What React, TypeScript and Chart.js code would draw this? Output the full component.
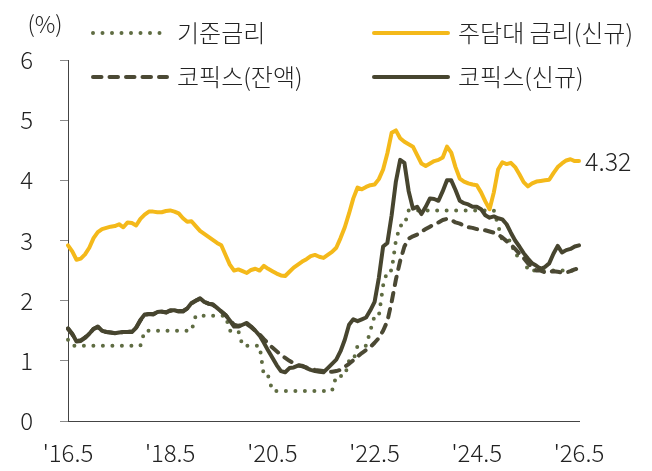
import React, { useEffect, useRef } from 'react';
import { Chart, registerables } from 'chart.js';

Chart.register(...registerables);

const FONT = "'Noto Sans CJK KR', 'Noto Sans', sans-serif";

// Monthly categories from 2016.5 to 2026.5
const START_YEAR = 2016;
const START_MONTH = 5;
const MONTH_COUNT = 121;
const categories: string[] = Array.from({ length: MONTH_COUNT }, (_, i) => {
  const t = START_MONTH - 1 + i;
  return `${START_YEAR + Math.floor(t / 12)}.${(t % 12) + 1}`;
});

const tickLabels = ["'16.5", "'18.5", "'20.5", "'22.5", "'24.5", "'26.5"];
const TICK_EVERY = 24;

const seriesNames = ['기준금리', '주담대 금리(신규)', '코픽스(잔액)', '코픽스(신규)'];

// 기준금리
const baseRate = [
  1.35, 1.25, 1.25, 1.25, 1.25, 1.25, 1.25, 1.25, 1.25, 1.25,
  1.25, 1.25, 1.25, 1.25, 1.25, 1.25, 1.25, 1.25, 1.5, 1.5,
  1.5, 1.5, 1.5, 1.5, 1.5, 1.5, 1.5, 1.5, 1.5, 1.5,
  1.75, 1.75, 1.75, 1.75, 1.75, 1.75, 1.75, 1.75, 1.5, 1.5,
  1.5, 1.25, 1.25, 1.25, 1.25, 1.25, 0.75, 0.75, 0.5, 0.5,
  0.5, 0.5, 0.5, 0.5, 0.5, 0.5, 0.5, 0.5, 0.5, 0.5,
  0.5, 0.5, 0.5, 0.75, 0.75, 0.75, 1.0, 1.0, 1.25, 1.25,
  1.25, 1.5, 1.75, 1.75, 2.25, 2.5, 2.5, 3.0, 3.25, 3.25,
  3.5, 3.5, 3.5, 3.5, 3.5, 3.5, 3.5, 3.5, 3.5, 3.5,
  3.5, 3.5, 3.5, 3.5, 3.5, 3.5, 3.5, 3.5, 3.5, 3.5,
  3.5, 3.25, 3.0, 3.0, 3.0, 2.75, 2.75, 2.75, 2.5, 2.5,
  2.5, 2.5, 2.5, 2.5, 2.5, 2.5, 2.5, 2.5, 2.5, 2.5,
  2.5,
];

// 주담대 금리(신규)
const mortgageNew = [
  2.92, 2.82, 2.68, 2.70, 2.77, 2.88, 3.04, 3.14, 3.19, 3.21,
  3.23, 3.24, 3.27, 3.22, 3.30, 3.29, 3.25, 3.36, 3.43, 3.48,
  3.48, 3.47, 3.47, 3.49, 3.50, 3.48, 3.45, 3.37, 3.31, 3.32,
  3.24, 3.16, 3.11, 3.06, 3.01, 2.96, 2.92, 2.76, 2.60, 2.50,
  2.52, 2.49, 2.46, 2.51, 2.53, 2.50, 2.58, 2.53, 2.49, 2.45,
  2.42, 2.41, 2.48, 2.55, 2.60, 2.65, 2.69, 2.74, 2.76, 2.73,
  2.71, 2.76, 2.81, 2.88, 3.04, 3.22, 3.45, 3.70, 3.88, 3.85,
  3.89, 3.92, 3.93, 4.02, 4.18, 4.45, 4.79, 4.83, 4.70, 4.64,
  4.60, 4.56, 4.42, 4.28, 4.24, 4.28, 4.32, 4.34, 4.38, 4.56,
  4.46, 4.22, 4.03, 3.98, 3.95, 3.93, 3.92, 3.80, 3.65, 3.52,
  3.80, 4.18, 4.30, 4.27, 4.29, 4.22, 4.10, 3.97, 3.90, 3.95,
  3.98, 3.99, 4.00, 4.01, 4.12, 4.22, 4.28, 4.33, 4.35, 4.32,
  4.32,
];

// 코픽스(잔액)
const cofixBalance = [
  1.53, 1.44, 1.34, 1.34, 1.39, 1.45, 1.53, 1.56, 1.50, 1.48,
  1.47, 1.46, 1.47, 1.48, 1.48, 1.49, 1.55, 1.67, 1.76, 1.78,
  1.78, 1.80, 1.81, 1.81, 1.83, 1.84, 1.83, 1.83, 1.87, 1.95,
  2.00, 2.03, 1.98, 1.95, 1.93, 1.88, 1.82, 1.76, 1.68, 1.60,
  1.58, 1.60, 1.61, 1.56, 1.50, 1.44, 1.36, 1.29, 1.22, 1.16,
  1.10, 1.05, 1.00, 0.96, 0.93, 0.91, 0.89, 0.87, 0.85, 0.84,
  0.83, 0.82, 0.82, 0.83, 0.85, 0.90, 0.95, 1.01, 1.07, 1.13,
  1.18, 1.23, 1.30, 1.38, 1.50, 1.66, 1.98, 2.35, 2.66, 2.90,
  3.03, 3.07, 3.10, 3.15, 3.19, 3.23, 3.27, 3.30, 3.34, 3.36,
  3.34, 3.30, 3.28, 3.25, 3.22, 3.21, 3.19, 3.18, 3.17, 3.15,
  3.13, 3.10, 3.05, 2.99, 2.93, 2.86, 2.78, 2.71, 2.62, 2.55,
  2.50, 2.50, 2.47, 2.48, 2.49, 2.48, 2.47, 2.47, 2.49, 2.52,
  2.54,
];

// 코픽스(신규)
const cofixNew = [
  1.54, 1.45, 1.32, 1.33, 1.38, 1.45, 1.53, 1.57, 1.50, 1.48,
  1.47, 1.46, 1.47, 1.48, 1.48, 1.48, 1.55, 1.68, 1.77, 1.78,
  1.77, 1.81, 1.82, 1.80, 1.84, 1.84, 1.82, 1.82, 1.87, 1.96,
  2.00, 2.04, 1.98, 1.95, 1.94, 1.88, 1.82, 1.76, 1.67, 1.57,
  1.57, 1.60, 1.63, 1.57, 1.50, 1.42, 1.30, 1.17, 1.05, 0.93,
  0.83, 0.81, 0.88, 0.89, 0.92, 0.92, 0.88, 0.85, 0.83, 0.82,
  0.81, 0.88, 0.95, 1.02, 1.16, 1.35, 1.60, 1.69, 1.66, 1.69,
  1.72, 1.84, 1.98, 2.38, 2.90, 2.96, 3.42, 3.98, 4.34, 4.29,
  3.82, 3.53, 3.56, 3.44, 3.56, 3.70, 3.69, 3.66, 3.82, 4.00,
  4.00, 3.84, 3.66, 3.62, 3.60, 3.56, 3.56, 3.52, 3.42, 3.38,
  3.40, 3.37, 3.35, 3.27, 3.13, 3.00, 2.90, 2.79, 2.70, 2.62,
  2.58, 2.53, 2.56, 2.62, 2.78, 2.91, 2.80, 2.84, 2.86, 2.90,
  2.92,
];

const COLORS = {
  base: '#5f6c42',
  mortgage: '#f4b91a',
  cofixBal: '#4b4934',
  cofixNew: '#47452f',
  text: '#222222',
  axis: '#444444',
  tick: '#8a8a8a',
};

const legendPlugin = {
  id: 'customLegend',
  afterDraw(chart: any) {
    const ctx: CanvasRenderingContext2D = chart.ctx;
    const slots = [
      { i: 0, x: 93, y: 33 },
      { i: 1, x: 374, y: 33 },
      { i: 2, x: 93, y: 77 },
      { i: 3, x: 374, y: 77 },
    ];
    ctx.save();
    slots.forEach(({ i, x, y }) => {
      const ds = chart.data.datasets[i];
      ctx.save();
      ctx.strokeStyle = ds.borderColor;
      ctx.lineWidth = ds.borderWidth;
      ctx.lineCap = 'round';
      ctx.setLineDash(ds.borderDash || []);
      ctx.beginPath();
      ctx.moveTo(x, y);
      ctx.lineTo(x + 74, y);
      ctx.stroke();
      ctx.restore();
      ctx.fillStyle = COLORS.text;
      ctx.font = `300 24px ${FONT}`;
      ctx.textAlign = 'left';
      ctx.textBaseline = 'middle';
      ctx.fillText(ds.label, x + 84, y);
    });
    // unit label
    ctx.font = `300 23px ${FONT}`;
    ctx.textAlign = 'center';
    ctx.textBaseline = 'middle';
    ctx.fillStyle = COLORS.text;
    ctx.fillText('(%)', 45, 24);
    // last value label on 주담대 금리
    const meta = chart.getDatasetMeta(1);
    const last = meta.data[meta.data.length - 1];
    const vals = chart.data.datasets[1].data;
    const lastVal = vals[vals.length - 1];
    if (last) {
      ctx.font = `300 25px ${FONT}`;
      ctx.textAlign = 'left';
      ctx.fillText(lastVal.toFixed(2), last.x + 6, last.y);
    }
    ctx.restore();
  },
};

export default function App() {
  const canvasRef = useRef<HTMLCanvasElement | null>(null);

  useEffect(() => {
    document.body.style.margin = '0';
    const canvas = canvasRef.current;
    if (!canvas) return;
    const chart = new Chart(canvas, {
      type: 'line',
      data: {
        labels: categories,
        datasets: [
          {
            label: seriesNames[0],
            data: baseRate,
            borderColor: COLORS.base,
            borderWidth: 4,
            borderDash: [0, 9.5],
            borderCapStyle: 'round',
            borderJoinStyle: 'round',
            pointRadius: 0,
            tension: 0,
            order: 4,
          },
          {
            label: seriesNames[1],
            data: mortgageNew,
            borderColor: COLORS.mortgage,
            borderWidth: 4,
            borderJoinStyle: 'round',
            borderCapStyle: 'round',
            pointRadius: 0,
            tension: 0,
            order: 2,
          },
          {
            label: seriesNames[2],
            data: cofixBalance,
            borderColor: COLORS.cofixBal,
            borderWidth: 4,
            borderDash: [8.5, 8],
            borderCapStyle: 'round',
            borderJoinStyle: 'round',
            pointRadius: 0,
            tension: 0,
            order: 3,
          },
          {
            label: seriesNames[3],
            data: cofixNew,
            borderColor: COLORS.cofixNew,
            borderWidth: 4,
            borderJoinStyle: 'round',
            borderCapStyle: 'round',
            pointRadius: 0,
            tension: 0,
            order: 1,
          },
        ] as any,
      },
      options: {
        animation: false,
        responsive: false,
        devicePixelRatio: 1,
        layout: { padding: { top: 60, right: 73, left: 0, bottom: 0 } },
        plugins: {
          legend: { display: false },
          tooltip: { enabled: false },
        },
        scales: {
          x: {
            type: 'category',
            offset: false,
            grid: { display: false, drawTicks: false },
            border: { display: true, color: COLORS.axis, width: 1 },
            ticks: {
              autoSkip: false,
              maxRotation: 0,
              minRotation: 0,
              padding: 17,
              color: COLORS.text,
              font: { family: FONT, size: 24, weight: 300 as any },
              callback: (_v: any, index: number) =>
                index % TICK_EVERY === 0 ? tickLabels[index / TICK_EVERY] : '',
            },
            afterFit: (scale: any) => {
              scale.height = 50;
            },
          },
          y: {
            min: 0,
            max: 6,
            grid: {
              drawOnChartArea: false,
              drawTicks: true,
              tickLength: 8,
              color: COLORS.tick,
              tickColor: COLORS.tick,
            },
            border: { display: true, color: COLORS.axis, width: 1 },
            ticks: {
              stepSize: 1,
              padding: 27,
              color: COLORS.text,
              font: { family: FONT, size: 24, weight: 300 as any },
            },
            afterFit: (scale: any) => {
              scale.width = 68;
            },
          },
        },
      },
      plugins: [legendPlugin],
    });
    return () => chart.destroy();
  }, []);

  return (
    <div style={{ width: 652, height: 471, position: 'relative', background: '#fff' }}>
      <canvas ref={canvasRef} width={652} height={471} style={{ display: 'block' }} />
    </div>
  );
}
